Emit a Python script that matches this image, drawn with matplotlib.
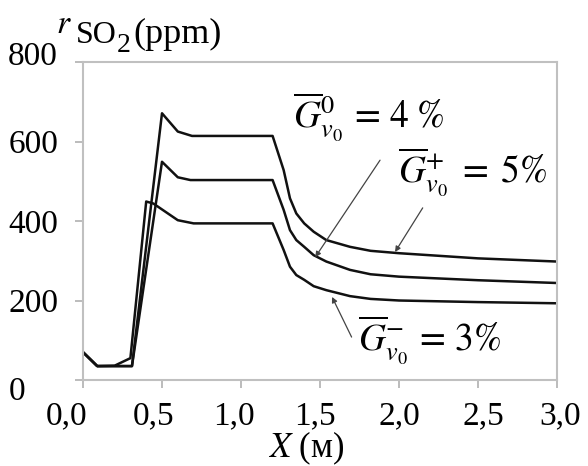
import matplotlib.pyplot as plt
import matplotlib.transforms as mtransforms

plt.rcParams['font.family'] = ['Liberation Serif', 'DejaVu Serif']
plt.rcParams['mathtext.fontset'] = 'stix'

# G = 5 % (upper curve)
x_hi = [0, 0.09, 0.2, 0.31, 0.50, 0.60, 0.69, 1.20, 1.27, 1.31, 1.35, 1.40, 1.46,
        1.54, 1.69, 1.82, 2.0, 2.5, 3.0]
y_hi = [70, 35, 35, 35, 671, 625, 614, 614, 528, 457, 419, 394, 373,
        352, 335, 325, 319, 306, 298]

# G = 4 % (middle curve)
x_mid = [0, 0.09, 0.2, 0.31, 0.50, 0.60, 0.68, 1.20, 1.27, 1.31, 1.35, 1.40, 1.46,
         1.54, 1.69, 1.82, 2.0, 2.5, 3.0]
y_mid = [70, 35, 35, 35, 549, 510, 503, 503, 428, 377, 352, 335, 314,
         298, 277, 266, 260, 251, 244]

# G = 3 % (lower curve)
x_lo = [0, 0.09, 0.2, 0.30, 0.40, 0.445, 0.60, 0.70, 1.20, 1.27, 1.31, 1.35, 1.40,
        1.46, 1.54, 1.69, 1.82, 2.0, 2.5, 3.0]
y_lo = [70, 35, 36, 55, 449, 444, 402, 394, 394, 327, 285, 264, 252,
        236, 226, 211, 204, 200, 196, 193]

x_ticks = [0, 0.5, 1.0, 1.5, 2.0, 2.5, 3.0]
x_labels = ['0,0', '0,5', '1,0', '1,5', '2,0', '2,5', '3,0']
y_ticks = [0, 200, 400, 600, 800]

W, H = 588, 466
fig = plt.figure(figsize=(W / 100, H / 100), dpi=100)
ax = fig.add_axes([83 / W, 1 - 380 / H, 474 / W, 318 / H])


def ftext(x, y, s, size, **kw):
    # text placed in pixel coords (from top-left corner), baseline aligned
    fig.text(x / W, 1 - y / H, s, fontsize=size, va='baseline', ha='left', **kw)


for xs, ys in [(x_hi, y_hi), (x_mid, y_mid), (x_lo, y_lo)]:
    ax.plot(xs, ys, color='#111111', lw=1.8, solid_joinstyle='round')

ax.set_xlim(0, 3.0)
ax.set_ylim(0, 800)
ax.set_xticks(x_ticks)
ax.set_xticklabels(x_labels)
ax.set_yticks(y_ticks)
ax.tick_params(axis='both', direction='out', length=6, width=1.2, color='#b0b0b0',
               labelsize=24, top=False, right=False)
ax.tick_params(axis='x', pad=9)
ax.tick_params(axis='y', pad=12)
for sp in ax.spines.values():
    sp.set_color('#c0c0c0')
    sp.set_linewidth(1.5)

# nudge a few tick labels like in the original
x_shift = [-16, -8, -7, -5, 0, 5, 3]
for lab, dx in zip(ax.get_xticklabels(), x_shift):
    lab.set_transform(lab.get_transform() + mtransforms.Affine2D().translate(dx, 0))
y_shift = {0: (-33, -8), 4: (0, 9)}
for i, lab in enumerate(ax.get_yticklabels()):
    if i in y_shift:
        dx, dy = y_shift[i]
        lab.set_transform(lab.get_transform() + mtransforms.Affine2D().translate(dx, dy))

# axis titles
ftext(56, 33, r'$r$', 24)
ftext(76, 43, 'SO', 23)
ftext(117, 52, '2', 20)
ftext(133, 43, '(ppm)', 26)
ftext(268, 457, r'$X$ (м)', 25)

# curve labels
ftext(293, 127, r'$\overline{G}{}^{0}_{v_0}\,=\,\mathrm{4\;\%}$', 27)
ftext(398, 182, r'$\overline{G}{}^{+}_{v_0}\;=\;\mathrm{5\%}$', 27)
ftext(358, 350, r'$\overline{G}{}^{-}_{v_0}\,=\,\mathrm{3\%}$', 27)

arrow = dict(arrowstyle='-|>', color='#444444', lw=0.9, mutation_scale=8,
             shrinkA=0, shrinkB=0)
ax.annotate('', xy=(1.47, 309), xytext=(1.88, 553), arrowprops=arrow)
ax.annotate('', xy=(1.975, 322), xytext=(2.15, 433), arrowprops=arrow)
ax.annotate('', xy=(1.576, 209), xytext=(1.70, 108), arrowprops=arrow)

fig.savefig('out.png', dpi=100)
